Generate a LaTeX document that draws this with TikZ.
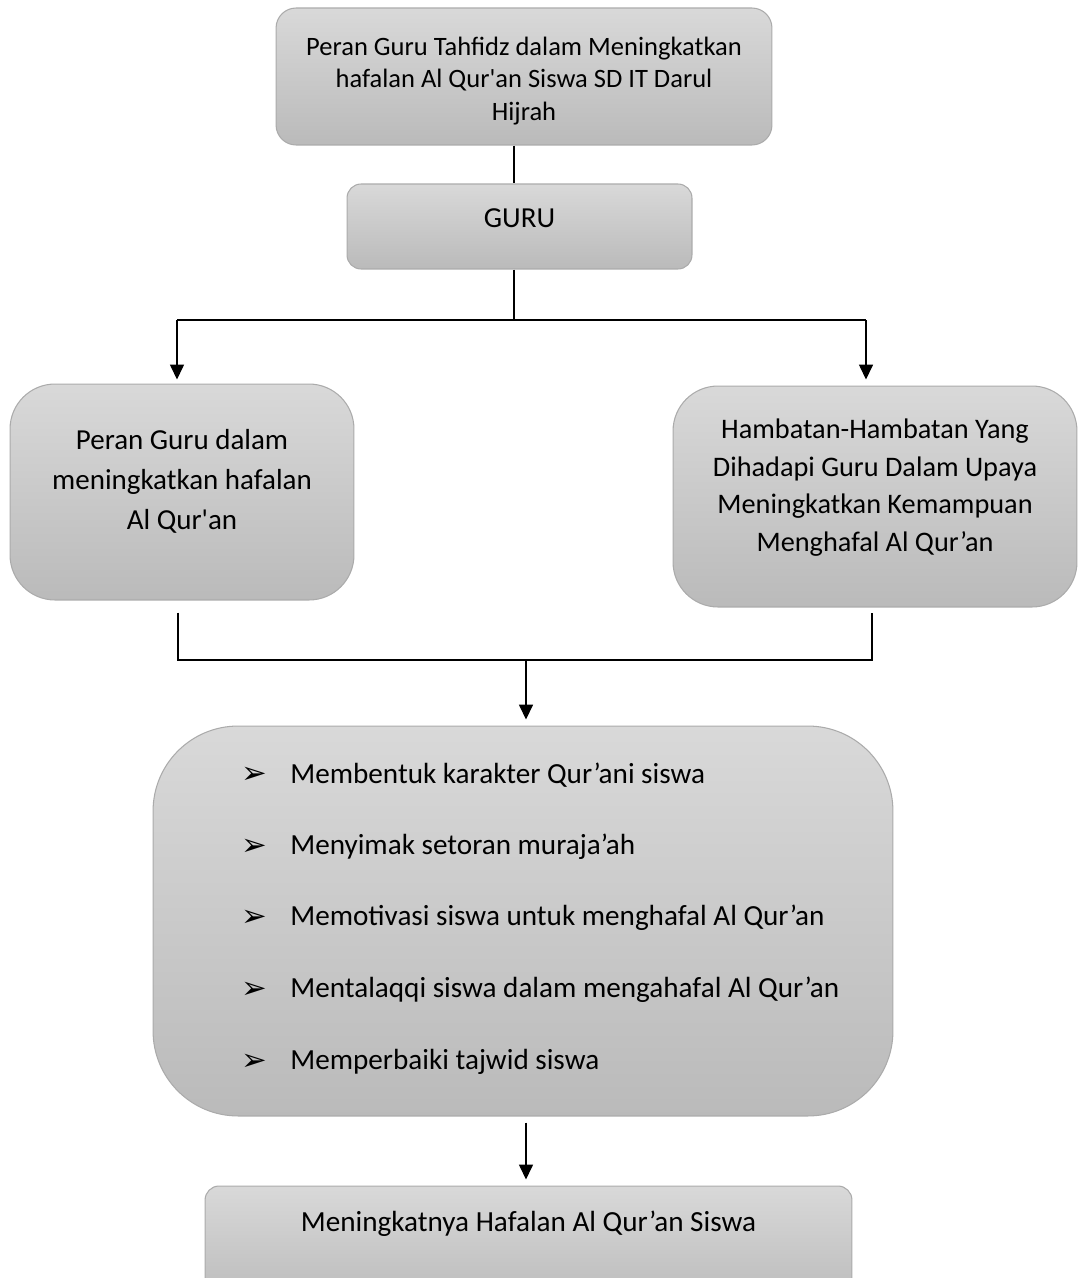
\documentclass[tikz,border=0pt]{standalone}
\usepackage{fontspec}
\setmainfont{Carlito}[Ligatures=TeXOff]
\newfontfamily\bulletfont{DejaVu Sans}
\usepackage{tikz}
\usetikzlibrary{positioning}
\usetikzlibrary{arrows.meta}
\tikzstyle{block}=[rectangle, draw=black!33, line width=0.6pt, top color=black!15, bottom color=black!27, inner sep=0pt]
\tikzstyle{teks}=[align=center, inner sep=0pt]
\tikzstyle{garis}=[line width=0.7pt]
\tikzstyle{panah}=[line width=0.7pt, -{Triangle[width=8pt,length=8.5pt]}]

\begin{document}
\begin{tikzpicture}[x=0.02cm, y=-0.02cm]

  \clip (0,0) rectangle (1078,1278);

  % kotak-kotak
  \foreach \pos/\w/\h/\r/\name in {{(524,76.5)/9.92/2.74/0.4/judul}, {(519.5,226.5)/6.9/1.7/0.28/guru}, {(182,492)/6.88/4.32/0.9/peran}, {(875,496.5)/8.08/4.42/0.9/hambatan}, {(523,921)/14.8/7.8/1.7/upaya}, {(528.5,1246)/12.94/2.4/0.28/hasil}}
      \node[block, minimum width=\w cm, minimum height=\h cm, rounded corners=\r cm] (\name) at \pos {};

  % teks
  \node[teks, font=\fontsize{15.1}{18.7}\selectfont] (tjudul) at (524,81) {Peran Guru Tahfidz dalam Meningkatkan\\ hafalan Al Qur'an Siswa SD IT Darul\\ Hijrah};
  \node[teks, font=\fontsize{16.5}{20}\selectfont] (tguru) at (519.5,218) {GURU};
  \node[teks, font=\fontsize{16.5}{22.7}\selectfont] (tperan) at (182,481) {Peran Guru dalam\\ meningkatkan hafalan\\ Al Qur'an};
  \node[teks, font=\fontsize{16.1}{21.5}\selectfont] (thambatan) at (875,487.5) {Hambatan-Hambatan Yang\\ Dihadapi Guru Dalam Upaya\\ Meningkatkan Kemampuan\\ Menghafal Al Qur’an};
  \node[teks, font=\fontsize{16.6}{20}\selectfont] (thasil) at (528.5,1224) {Meningkatnya Hafalan Al Qur’an Siswa};

  \foreach \y/\name/\isi in {775/a/Membentuk karakter Qur’ani siswa, 847/b/Menyimak setoran muraja’ah, 918/c/Memotivasi siswa untuk menghafal Al Qur’an, 990/d/Mentalaqqi siswa dalam mengahafal Al Qur’an, 1062/e/Memperbaiki tajwid siswa}
  {
      \node[teks, font=\bulletfont\fontsize{17.5}{18}\selectfont] (bullet\name) at (254,\y) {➢};
      \node[teks, anchor=west, font=\fontsize{16.6}{20}\selectfont] (poin\name) at (290,\y) {\isi};
  }

  % garis penghubung
  \coordinate (cabang) at (514,320);
  \coordinate (kiri) at (177,320);
  \coordinate (kanan) at (866,320);
  \coordinate (kiribawah) at (178,660);
  \coordinate (kananbawah) at (872,660);
  \coordinate (gabung) at (526,660);

  \draw[garis] (judul.south -| cabang) -- (guru.north -| cabang);
  \draw[garis] (guru.south -| cabang) -- (cabang);
  \draw[garis] (kiri) -- (kanan);
  \draw[panah] (kiri) -- ([yshift=0.08cm]kiri |- peran.north);
  \draw[panah] (kanan) -- ([yshift=0.12cm]kanan |- hambatan.north);

  \draw[garis] ([yshift=-0.24cm]kiribawah |- peran.south) -- (kiribawah) -- (kananbawah) -- ([yshift=-0.1cm]kananbawah |- hambatan.south);
  \draw[panah] (gabung) -- ([yshift=0.12cm]gabung |- upaya.north);
  \draw[panah] ([yshift=-0.12cm]gabung |- upaya.south) -- ([yshift=0.12cm]gabung |- hasil.north);

\end{tikzpicture}
\end{document}
